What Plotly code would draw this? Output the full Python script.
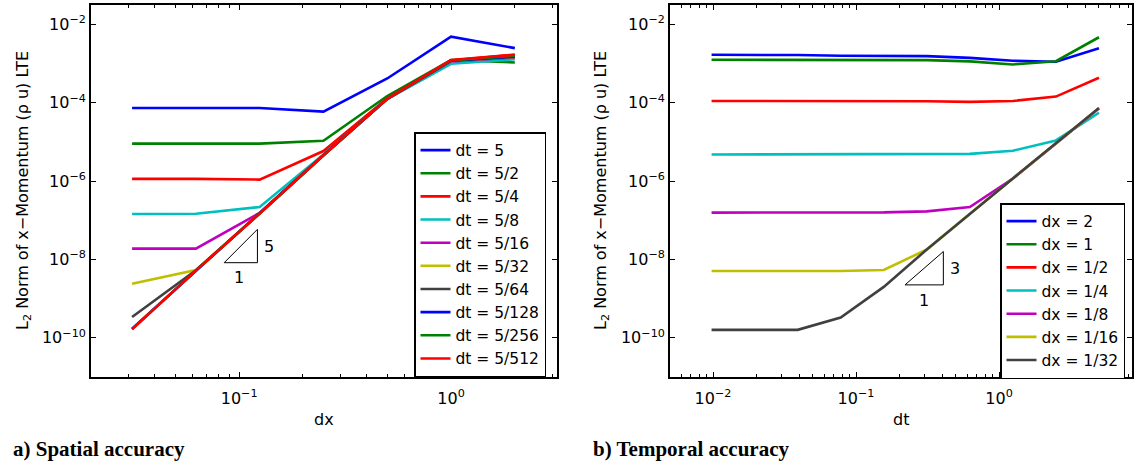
import numpy as np
import plotly.graph_objects as go

W, H = 1134, 465

# ---------------- data ----------------
# a) spatial accuracy: LTE vs dx, one curve per time step
dx_vals = [1/32, 1/16, 1/8, 1/4, 1/2, 1, 2]
dt_labels = ["5", "5/2", "5/4", "5/8", "5/16", "5/32", "5/64", "5/128", "5/256", "5/512"]
lte_dt_5     = [7.4e-5, 7.4e-5, 7.4e-5, 6.0e-5, 4.2e-4, 4.9e-3, 2.5e-3]
lte_dt_5_2   = [9.1e-6, 9.1e-6, 9.1e-6, 1.08e-5, 1.5e-4, 1.25e-3, 1.08e-3]
lte_dt_5_4   = [1.15e-6, 1.15e-6, 1.1e-6, 5.9e-6, 1.3e-4, 1.2e-3, 1.7e-3]
lte_dt_5_8   = [1.45e-7, 1.47e-7, 2.2e-7, 4.8e-6, 1.25e-4, 1.0e-3, 1.3e-3]
lte_dt_5_16  = [1.9e-8, 1.9e-8, 1.55e-7, 4.7e-6, 1.27e-4, 1.15e-3, 1.45e-3]
lte_dt_5_32  = [2.4e-9, 5.4e-9, 1.52e-7, 4.6e-6, 1.27e-4, 1.18e-3, 1.5e-3]
lte_dt_5_64  = [3.4e-10, 5.3e-9, 1.5e-7, 4.6e-6, 1.27e-4, 1.2e-3, 1.5e-3]
lte_dt_5_128 = [1.7e-10, 5.2e-9, 1.5e-7, 4.6e-6, 1.27e-4, 1.2e-3, 1.55e-3]
lte_dt_5_256 = [1.67e-10, 5.2e-9, 1.5e-7, 4.6e-6, 1.27e-4, 1.22e-3, 1.6e-3]
lte_dt_5_512 = [1.66e-10, 5.2e-9, 1.5e-7, 4.6e-6, 1.27e-4, 1.25e-3, 1.7e-3]
spatial_series = [lte_dt_5, lte_dt_5_2, lte_dt_5_4, lte_dt_5_8, lte_dt_5_16,
                  lte_dt_5_32, lte_dt_5_64, lte_dt_5_128, lte_dt_5_256, lte_dt_5_512]

# b) temporal accuracy: LTE vs dt, one curve per grid spacing
dt_vals = [5/512, 5/256, 5/128, 5/64, 5/32, 5/16, 5/8, 5/4, 5/2, 5]
dx_labels = ["2", "1", "1/2", "1/4", "1/8", "1/16", "1/32"]
lte_dx_2    = [1.69e-3, 1.69e-3, 1.67e-3, 1.6e-3, 1.58e-3, 1.56e-3, 1.41e-3, 1.19e-3, 1.12e-3, 2.5e-3]
lte_dx_1    = [1.26e-3, 1.26e-3, 1.26e-3, 1.26e-3, 1.26e-3, 1.24e-3, 1.15e-3, 9.6e-4, 1.16e-3, 4.75e-3]
lte_dx_1_2  = [1.12e-4, 1.12e-4, 1.12e-4, 1.12e-4, 1.12e-4, 1.1e-4, 1.06e-4, 1.12e-4, 1.45e-4, 4.4e-4]
lte_dx_1_4  = [4.8e-6, 4.8e-6, 4.8e-6, 4.8e-6, 4.8e-6, 4.8e-6, 5.0e-6, 6.0e-6, 1.1e-5, 5.6e-5]
lte_dx_1_8  = [1.58e-7, 1.58e-7, 1.58e-7, 1.58e-7, 1.6e-7, 1.7e-7, 2.2e-7, 1.17e-6, 9.3e-6, 7.2e-5]
lte_dx_1_16 = [5.1e-9, 5.1e-9, 5.1e-9, 5.1e-9, 5.4e-9, 1.8e-8, 1.48e-7, 1.18e-6, 9.3e-6, 7.3e-5]
lte_dx_1_32 = [1.6e-10, 1.6e-10, 1.6e-10, 3.3e-10, 2.0e-9, 1.8e-8, 1.48e-7, 1.18e-6, 9.3e-6, 7.4e-5]
temporal_series = [lte_dx_2, lte_dx_1, lte_dx_1_2, lte_dx_1_4, lte_dx_1_8, lte_dx_1_16, lte_dx_1_32]

# slope-reference triangles (x corners, y corners)
tri_spatial_x = [0.085, 0.122, 0.122, 0.085]
tri_spatial_y = [8.3e-9, 8.3e-9, 5.9e-8, 8.3e-9]
tri_temporal_x = [0.22, 0.408, 0.408, 0.22]
tri_temporal_y = [2.25e-9, 2.25e-9, 1.6e-8, 2.25e-9]

y_tick_vals = [1e-10, 1e-8, 1e-6, 1e-4, 1e-2]
y_tick_text = ["10<sup>−10</sup>", "10<sup>−8</sup>", "10<sup>−6</sup>", "10<sup>−4</sup>", "10<sup>−2</sup>"]
xa_tick_vals = [0.1, 1]
xa_tick_text = ["10<sup>−1</sup>", "10<sup>0</sup>"]
xb_tick_vals = [0.01, 0.1, 1]
xb_tick_text = ["10<sup>−2</sup>", "10<sup>−1</sup>", "10<sup>0</sup>"]

# MATLAB-style colour order
colors = ["#0000FF", "#008000", "#FF0000", "#00BFBF", "#BF00BF", "#BFBF00", "#404040"]

FONT = "DejaVu Sans, Arial, sans-serif"
SERIF = "Liberation Serif, Times New Roman, serif"
FS = 16
LW = 2.6


def px_x(p):
    return p / W


def px_y(p):
    return 1 - p / H


fig = go.Figure()

for i, (lab, ys) in enumerate(zip(dt_labels, spatial_series)):
    fig.add_trace(go.Scatter(
        x=dx_vals, y=ys, mode="lines", name=f"dt = {lab}",
        line=dict(color=colors[i % len(colors)], width=LW),
        xaxis="x", yaxis="y", legend="legend"))

for i, (lab, ys) in enumerate(zip(dx_labels, temporal_series)):
    fig.add_trace(go.Scatter(
        x=dt_vals, y=ys, mode="lines", name=f"dx = {lab}",
        line=dict(color=colors[i % len(colors)], width=LW),
        xaxis="x2", yaxis="y2", legend="legend2"))

fig.add_trace(go.Scatter(x=tri_spatial_x, y=tri_spatial_y, mode="lines",
                         line=dict(color="black", width=1), showlegend=False,
                         xaxis="x", yaxis="y", hoverinfo="skip"))
fig.add_trace(go.Scatter(x=tri_temporal_x, y=tri_temporal_y, mode="lines",
                         line=dict(color="black", width=1), showlegend=False,
                         xaxis="x2", yaxis="y2", hoverinfo="skip"))


def minor_log(lo, hi):
    vals = []
    for e in range(lo, hi + 1):
        for m in range(2, 10):
            vals.append(m * 10.0 ** e)
    return vals


axis_common = dict(
    type="log", showline=True, linecolor="black", linewidth=1.8, mirror="ticks",
    ticks="inside", ticklen=5, tickcolor="black", tickwidth=1, showgrid=False,
    zeroline=False, tickfont=dict(family=FONT, size=FS, color="black"),
)
xaxis_extra = dict(ticklabelstandoff=6)

ya_dom = [px_y(377), px_y(5)]
legend_common = dict(xanchor="left", yanchor="top", bgcolor="white",
                     bordercolor="black", borderwidth=1.5, tracegroupgap=0,
                     font=dict(family=FONT, size=15.5, color="black"))
fig.update_layout(
    width=W, height=H,
    margin=dict(l=0, r=0, t=0, b=0),
    plot_bgcolor="white", paper_bgcolor="white",
    font=dict(family=FONT, size=FS, color="black"),
    xaxis=dict(domain=[px_x(91), px_x(557)], range=[np.log10(0.02), 0.5],
               tickmode="array", tickvals=xa_tick_vals, ticktext=xa_tick_text,
               minor=dict(tickmode="array", tickvals=minor_log(-2, 0), ticks="inside",
                          ticklen=3, tickcolor="black", showgrid=False),
               anchor="y", **axis_common, **xaxis_extra),
    yaxis=dict(domain=ya_dom, range=[-11, -1.5], tickmode="array",
               tickvals=y_tick_vals, ticktext=y_tick_text, anchor="x", **axis_common),
    xaxis2=dict(domain=[px_x(670), px_x(1132)], range=[np.log10(0.005), 0.93],
                tickmode="array", tickvals=xb_tick_vals, ticktext=xb_tick_text,
                minor=dict(tickmode="array", tickvals=minor_log(-3, 0), ticks="inside",
                           ticklen=3, tickcolor="black", showgrid=False),
                anchor="y2", **axis_common, **xaxis_extra),
    yaxis2=dict(domain=ya_dom, range=[-11, -1.5], tickmode="array",
                tickvals=y_tick_vals, ticktext=y_tick_text, anchor="x2", **axis_common),
    legend=dict(x=px_x(414), y=px_y(132), **legend_common),
    legend2=dict(x=px_x(1000), y=px_y(203), **legend_common),
    showlegend=True,
)

ymid = (ya_dom[0] + ya_dom[1]) / 2
ytitle = "L<sub>2</sub> Norm of x−Momentum (ρ u) LTE"


def note(text, x, y, xref="paper", yref="paper", xanchor="center", size=FS,
         family=FONT, angle=0):
    return dict(text=text, x=x, y=y, xref=xref, yref=yref, xanchor=xanchor,
                yanchor="middle", textangle=angle, showarrow=False,
                font=dict(family=family, size=size, color="black"))


annotations = [
    note(ytitle, px_x(23), ymid, angle=-90),
    note(ytitle, px_x(601), ymid, angle=-90),
    note("dx", px_x(324), px_y(419)),
    note("dt", px_x(901), px_y(419)),
    note("<b>a) Spatial accuracy</b>", px_x(11), px_y(449), xanchor="left",
         size=21, family=SERIF),
    note("<b>b) Temporal accuracy</b>", px_x(591), px_y(449), xanchor="left",
         size=21, family=SERIF),
    # slope labels
    note("5", np.log10(0.138), np.log10(2.2e-8), xref="x", yref="y"),
    note("1", np.log10(0.1), np.log10(3.4e-9), xref="x", yref="y"),
    note("3", np.log10(0.49), np.log10(6.0e-9), xref="x2", yref="y2"),
    note("1", np.log10(0.3), np.log10(9.0e-10), xref="x2", yref="y2"),
]
fig.update_layout(annotations=annotations)

fig.write_html("out.html")
